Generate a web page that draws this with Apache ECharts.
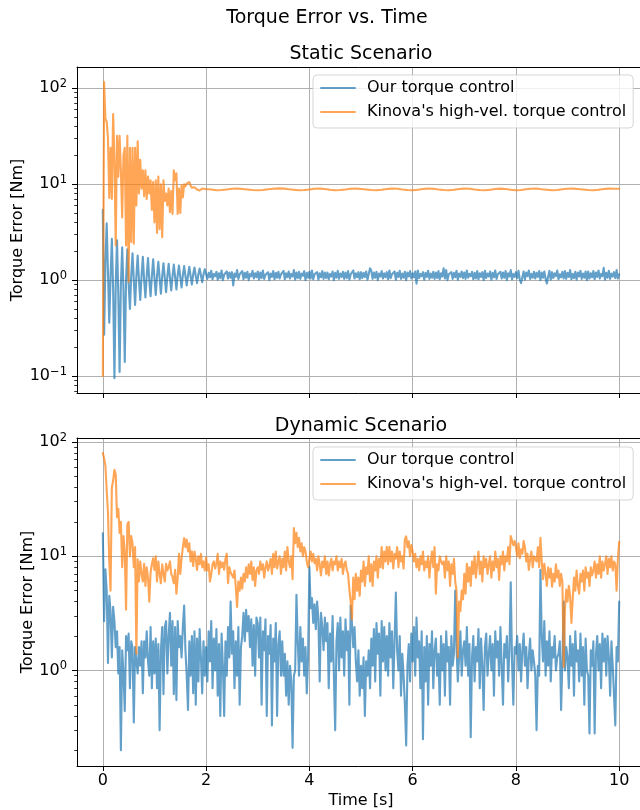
<!DOCTYPE html>
<html>
<head>
<meta charset="utf-8">
<script src="https://cdn.jsdelivr.net/npm/echarts@6/dist/echarts.min.js"></script>
<style>
  html, body { margin: 0; padding: 0; background: #fff; }
  #chart { width: 640px; height: 810px; }
</style>
</head>
<body>
<div id="chart"></div>
<script>
// ---- Tick positions ----
const xTicks = [0, 2, 4, 6, 8, 10];
const yMajorTicks = [0.1, 1, 10, 100];
const yMinorTicksStatic = [0.07, 0.08, 0.09, 0.2, 0.3, 0.4, 0.5, 0.6, 0.7, 0.8, 0.9,
  2, 3, 4, 5, 6, 7, 8, 9, 20, 30, 40, 50, 60, 70, 80, 90];
const yMinorTicksDynamic = [0.2, 0.3, 0.4, 0.5, 0.6, 0.7, 0.8, 0.9,
  2, 3, 4, 5, 6, 7, 8, 9, 20, 30, 40, 50, 60, 70, 80, 90];

// ---- Series names ----
const seriesNames = ["Our torque control", "Kinova's high-vel. torque control"];

// ---- Static scenario: torque error [Nm], sampled every 0.025 s from t = 0 ----
const staticOurs = [
  5.4, 0.27, 1.5, 3.9, 1.2, 0.36, 1.1, 2.7, 0.8, 0.095, 0.9, 2.6, 0.7, 0.11, 0.9, 2.2, 0.8, 0.14, 1.0, 2.1,
  0.9, 0.5, 1.1, 1.9, 1.0, 0.55, 1.1, 1.8, 1.0, 0.62, 1.1, 1.75, 1.0, 0.66, 1.1, 1.7, 1.0, 0.68, 1.1, 1.65,
  1.05, 0.7, 1.1, 1.55, 1.05, 0.72, 1.1, 1.5, 1.05, 0.75, 1.1, 1.48, 1.05, 0.78, 1.1, 1.45, 1.08, 0.8, 1.12, 1.42,
  1.08, 0.84, 1.12, 1.4, 1.1, 0.88, 1.12, 1.38, 1.1, 0.9, 1.15, 1.35, 1.1, 0.93, 1.15, 1.32, 1.12, 0.95, 1.15, 1.3,
  1.24, 1.03, 1.19, 1.07, 1.25, 1.02, 1.16, 1.1, 1.22, 1.01, 1.18, 1.05, 1.26, 1.0, 1.14, 1.09, 1.23, 1.04, 1.2, 1.06,
  1.21, 0.88, 1.17, 1.08, 1.27, 1.03, 1.15, 1.11, 1.24, 1.02, 1.19, 1.06, 1.22, 1.0, 1.16, 1.1, 1.25, 1.04, 1.18, 1.07,
  1.23, 1.01, 1.2, 1.05, 1.26, 1.03, 1.14, 1.12, 1.21, 1.0, 1.17, 1.08, 1.24, 1.02, 1.19, 1.06, 1.22, 1.04, 1.15, 1.1,
  1.25, 1.02, 1.18, 1.07, 1.23, 1.04, 1.16, 1.09, 1.27, 1.01, 1.2, 1.05, 1.22, 1.03, 1.17, 1.11, 1.24, 1.0, 1.19, 1.06,
  1.22, 1.04, 1.26, 1.02, 1.15, 1.1, 1.21, 1.01, 1.18, 1.07, 1.24, 1.03, 1.2, 1.05, 1.2, 1.02, 1.16, 1.09, 1.23, 1.0,
  1.19, 1.06, 1.25, 1.03, 1.17, 1.08, 1.22, 1.03, 1.2, 1.05, 1.24, 1.01, 1.15, 1.11, 1.26, 1.04, 1.18, 1.07, 1.21, 1.02,
  1.21, 1.05, 1.19, 1.08, 1.23, 1.01, 1.16, 1.33, 1.25, 1.03, 1.2, 1.06, 1.22, 1.0, 1.17, 1.09, 1.24, 1.04, 1.18, 1.07,
  1.21, 1.02, 1.26, 1.05, 1.15, 1.11, 1.23, 1.01, 1.19, 1.08, 1.25, 1.03, 1.17, 1.06, 1.22, 1.0, 1.2, 1.09, 1.24, 1.04,
  1.18, 1.07, 1.23, 0.92, 1.26, 1.05, 1.16, 1.1, 1.21, 1.01, 1.19, 1.08, 1.25, 1.03, 1.17, 1.06, 1.22, 1.03, 1.2, 1.05,
  1.24, 1.02, 1.18, 1.09, 1.33, 1.04, 1.27, 1.0, 1.15, 1.11, 1.21, 1.03, 1.19, 1.07, 1.25, 1.01, 1.17, 1.08, 1.23, 1.05,
  1.2, 1.03, 1.26, 1.06, 1.16, 1.1, 1.22, 1.02, 1.19, 1.04, 1.24, 1.02, 1.18, 1.08, 1.21, 1.0, 1.25, 1.05, 1.17, 1.09,
  1.23, 1.01, 1.19, 1.07, 1.26, 1.03, 1.15, 1.11, 1.22, 1.04, 1.2, 1.06, 1.24, 1.0, 1.18, 1.09, 1.27, 1.02, 1.16, 1.08,
  1.21, 1.05, 1.25, 1.02, 0.93, 1.07, 1.23, 1.01, 1.2, 1.1, 1.26, 1.03, 1.16, 1.06, 1.22, 1.04, 1.19, 1.08, 1.24, 1.0,
  1.2, 1.06, 1.23, 1.03, 0.92, 1.09, 1.25, 1.01, 1.21, 1.05, 1.18, 1.1, 1.26, 1.02, 1.15, 1.07, 1.22, 1.04, 1.24, 1.03,
  1.19, 1.08, 1.27, 1.02, 1.16, 1.05, 1.22, 1.01, 1.2, 1.09, 1.25, 1.03, 1.17, 1.06, 1.23, 1.0, 1.23, 1.04, 1.18, 1.07,
  1.24, 1.02, 1.2, 1.08, 1.26, 1.04, 1.16, 1.1, 1.34, 1.01, 1.19, 1.06, 1.25, 1.03, 1.17, 1.09, 1.21, 1.05, 1.27, 1.04,
  1.15
];

// Kinova, static: transient sampled every 0.025 s (0 to 1.975 s) ...
const staticKinovaStart = [
  0.1, 116, 48, 45, 30, 7.2, 24, 7, 54, 18, 2.3, 32, 12, 32, 14, 4.5, 20, 24, 2.3, 32,
  0.96, 24, 2.5, 24, 2.4, 24, 6, 28, 8, 18, 9, 14, 7.5, 14, 7, 12, 8, 11, 5.4, 10.5,
  4, 11, 3.1, 12, 3.4, 10, 2.8, 11, 6.7, 8, 6, 9, 5.1, 8.5, 4.9, 14, 11, 13, 4.9, 9,
  5, 9.8, 7.3, 10, 9.5, 10.2, 9.8, 10.5, 9.7, 9.2, 9.5, 9.3, 9.1, 8.8, 8.7, 8.6, 8.8, 9, 9.1, 8.9
];
// ... then the settled part, every 0.1 s from 2.0 s to 10.0 s
const staticKinovaSettled = [
  8.9, 8.8, 8.65, 8.7, 8.8, 8.95, 9.0, 8.9, 8.8, 8.7,
  8.65, 8.7, 8.85, 8.95, 9.05, 9.0, 8.85, 8.75, 8.65, 8.7,
  8.8, 8.95, 9.0, 8.9, 8.75, 8.65, 8.7, 8.8, 8.95, 9.0,
  8.9, 8.8, 8.7, 8.65, 8.75, 8.9, 9.0, 8.95, 8.8, 8.7,
  8.65, 8.75, 8.9, 9.0, 8.95, 8.8, 8.7, 8.65, 8.75, 8.9,
  9.0, 8.95, 8.8, 8.7, 8.65, 8.75, 8.9, 9.0, 8.9, 8.75,
  8.65, 8.7, 8.85, 8.95, 9.0, 8.85, 8.75, 8.65, 8.7, 8.85,
  8.95, 9.0, 8.9, 8.8, 8.7, 8.65, 8.75, 8.9, 9.0, 8.95,
  8.95
];

// ---- Dynamic scenario: torque error [Nm], sampled every 0.025 s from t = 0 ----
const dynamicOurs = [
  15.9, 2.7, 7.7, 5, 1.16, 4.5, 3.3, 1.3, 3.6, 2.7, 1.6, 2.2, 0.94, 1.6, 0.2, 1.5, 0.94, 0.44, 2.0, 1.5,
  2.1, 0.7, 1.8, 1.6, 0.35, 1.6, 1.6, 0.94, 1.6, 1.1, 1.8, 0.63, 1.8, 1.3, 2.2, 1.2, 0.9, 2.4, 0.7, 1.8,
  0.94, 1.9, 0.7, 1.7, 0.3, 1.5, 2.4, 0.62, 2.4, 2.7, 0.94, 2.0, 3.2, 1.1, 2.7, 0.62, 2.4, 0.55, 2.7, 1.6,
  2.0, 1.3, 2.4, 3.7, 1.5, 0.9, 0.45, 1.8, 0.9, 2.0, 0.63, 2.2, 0.5, 1.9, 0.8, 2.3, 1.3, 0.63, 1.8, 0.9,
  1.6, 0.8, 2.2, 1.2, 2.7, 0.7, 1.9, 1.0, 2.3, 0.6, 1.7, 0.4, 2.1, 1.1, 0.4, 1.8, 0.9, 2.4, 1.3, 4.0,
  1.4, 2.2, 0.7, 1.8, 0.9, 2.4, 0.5, 1.6, 2.0, 3.2, 1.8, 3.4, 2.2, 3.0, 1.6, 2.8, 1.1, 2.5, 0.9, 2.9,
  2.6, 1.3, 2.9, 0.5, 2.2, 1.5, 2.8, 0.4, 2.0, 1.4, 2.5, 0.33, 1.9, 1.2, 2.6, 0.4, 1.7, 2.2, 0.9, 1.8,
  0.9, 1.4, 0.6, 1.2, 0.5, 1.1, 0.8, 0.21, 0.9, 1.0, 4.6, 1.8, 0.9, 2.4, 1.2, 1.9, 0.9, 1.6, 0.63, 1.3,
  8.1, 3.5, 4.3, 2.6, 3.8, 2.3, 4.0, 2.8, 0.8, 3.2, 2.4, 1.5, 2.9, 1.8, 2.6, 0.7, 2.1, 1.2, 3.0, 0.9,
  0.3, 1.8, 2.6, 1.0, 2.9, 1.3, 2.2, 0.9, 2.8, 1.5, 2.2, 0.5, 3.7, 2.6, 1.6, 2.4, 1.2, 0.8, 1.5, 0.6,
  1.1, 0.7, 1.3, 0.4, 1.2, 0.9, 1.5, 0.7, 1.9, 1.1, 2.3, 0.8, 2.6, 1.4, 2.1, 0.6, 2.7, 1.2, 2.4, 1.0,
  2.0, 0.9, 2.6, 1.3, 2.2, 0.7, 1.8, 4.8, 1.5, 1.0, 2.0, 0.6, 1.4, 0.9, 0.5, 0.22, 1.1, 1.7, 0.8, 2.1,
  1.2, 2.4, 0.9, 2.9, 1.3, 1.8, 0.7, 2.2, 0.25, 1.6, 0.8, 2.0, 0.5, 1.7, 1.1, 2.2, 0.7, 1.5, 1.9, 0.9,
  1.4, 0.5, 2.0, 1.0, 1.7, 0.6, 2.2, 1.2, 1.6, 0.5, 2.0, 1.1, 1.4, 5.0, 1.6, 0.8, 1.3, 2.2, 0.9, 1.5,
  1.8, 1.1, 2.4, 0.9, 1.7, 0.26, 1.3, 2.0, 0.8, 1.6, 1.2, 2.3, 0.7, 1.9, 1.1, 0.45, 1.6, 2.1, 0.9, 1.4,
  2.0, 1.0, 1.7, 0.6, 2.2, 1.3, 1.8, 0.9, 2.4, 1.1, 0.5, 1.7, 1.3, 2.0, 0.8, 1.5, 5.9, 1.2, 0.5, 1.6,
  1.4, 2.0, 1.0, 1.7, 0.8, 1.5, 2.1, 1.1, 1.6, 0.7, 1.3, 1.9, 1.0, 1.5, 1.2, 0.9, 0.3, 1.1, 0.9, 7.6,
  2.0, 1.2, 2.7, 0.9, 1.8, 1.1, 2.2, 0.8, 1.6, 1.3, 2.0, 1.0, 1.3, 1.4, 1.8, 0.45, 1.2, 4.0, 1.0, 1.6,
  1.3, 0.7, 2.0, 1.1, 1.7, 0.6, 2.2, 1.2, 1.5, 0.8, 2.1, 0.9, 1.6, 0.5, 1.9, 1.0, 0.9, 0.28, 1.5, 1.1,
  1.8, 0.28, 1.4, 2.0, 1.0, 1.7, 0.7, 2.1, 1.2, 1.9, 0.9, 2.0, 1.3, 0.6, 1.8, 1.1, 1.1, 0.33, 1.6, 1.2,
  4.0
];

const dynamicKinova = [
  80, 72, 62, 38, 24, 9, 5, 40, 46, 57, 52, 22, 26, 16, 20, 8, 15, 11, 3.4, 19,
  20, 10, 15, 13, 8, 12, 1.4, 9.4, 6, 9, 7, 6, 8.6, 5.5, 8, 6.5, 4.0, 7.2, 8.5, 9.6,
  7.6, 10, 6, 9, 7, 5.8, 8.5, 7, 6, 8.6, 7.5, 8, 9, 7, 6.6, 5.8, 7.6, 4.7, 6.5, 10.5,
  7, 9.5, 12, 14.4, 12, 14, 11, 13, 9, 11, 8.2, 11, 9.5, 7.6, 10, 8.5, 10.5, 8, 9, 7.5,
  9.8, 7.5, 8.5, 6, 7, 8.5, 9, 7.8, 8.6, 10.5, 7, 9, 8, 8.8, 7.6, 9.5, 10.5, 5.8, 8, 7.2,
  7, 6.5, 7.5, 5.4, 3.6, 6, 5, 6.5, 5.2, 7, 6, 8, 6.5, 8.5, 7, 9, 6.2, 8, 5.5, 7.5,
  8, 7, 9, 7.6, 8.5, 6.5, 8, 9, 7.5, 8.2, 9.5, 7, 10.5, 8, 11, 7.8, 9, 10, 7, 9.5,
  8, 11, 7.5, 12, 9, 8, 10, 6.3, 17.6, 13, 16, 12, 14.5, 11, 13, 10, 12, 11, 9, 8,
  8, 11, 9, 10.5, 8.7, 9.5, 7.5, 10, 8.5, 6.8, 9, 8, 10, 7, 9, 6.8, 8.5, 9.5, 7.5, 9,
  8.5, 10, 7.5, 9, 8, 9.5, 7, 8.5, 9, 7.5, 7, 5.1, 4, 2.8, 6.5, 4.2, 7, 5, 6.5, 4.5,
  7.5, 6, 9, 5.5, 8, 7, 10, 6, 8.5, 5.5, 9, 7.5, 10, 6.5, 9.5, 8, 12, 7.8, 11, 9,
  12, 8.5, 12.1, 9, 11, 7.8, 10.5, 9.5, 12, 8, 11, 9, 10, 7.8, 14, 14.9, 12, 13.5, 10, 12.5,
  11, 9, 10.5, 8, 9.5, 7.5, 10, 8.5, 11, 7.5, 9, 8, 10, 6.5, 9, 11, 8, 12, 4.7, 8.5,
  7.5, 10, 9, 8.5, 9, 6.5, 10, 7.5, 9, 5.5, 8.5, 7, 9.5, 6, 5, 1.3, 4, 3.3, 5, 4.2,
  7, 4.7, 8.6, 6, 8, 5.5, 9, 7, 10, 6.5, 8.5, 11, 7, 9, 6, 10, 8, 9.5, 7, 8.5,
  10, 6.5, 9, 7.5, 11, 8, 9.5, 6.2, 10, 8.5, 11, 7.5, 10, 9, 12, 8.5, 15, 15.4, 12.5, 13.6,
  12, 10, 13, 9.6, 11.5, 10.5, 13.6, 12, 9, 10.5, 7.6, 9.5, 11, 8, 10, 10, 9, 12, 8, 14.5,
  9, 6.3, 8.6, 7, 5.5, 8, 6.5, 7.8, 5.4, 7, 6, 8.5, 6.5, 7.5, 5.5, 7, 6, 1.07, 3.5, 5.1,
  4, 5.5, 4.5, 2.6, 4.2, 6.5, 5, 7.5, 5.5, 4.7, 7, 6, 7.5, 5, 8, 6.5, 7.2, 5.5, 8, 6.8,
  7.5, 9, 6.5, 8.5, 7, 10, 6.5, 9, 7.5, 8.5, 10, 7, 9.5, 8, 10, 7.5, 9, 8.5, 5, 9.5,
  13.4
];

// Pair each sample with its time stamp on a uniform grid.
function timed(t0, dt, values) {
  return values.map((v, i) => [Math.round((t0 + i * dt) * 1000) / 1000, v]);
}

const FONT = 'DejaVu Sans';
const BLUE = '#1f77b4';
const ORANGE = '#ff7f0e';
const GRID_COLOR = '#b0b0b0';
const TICK_FONT = 16;
const TITLE_FONT = 19;

function powerLabel(v) {
  const e = Math.round(Math.log10(v));
  const exp = e < 0 ? '\u2212' + (-e) : String(e);
  return '{b|10}{s|' + exp + '}';
}

// Bottom x axis of a panel: ticks, grid lines and (optionally) labels.
function xAxisCfg(gridIndex, showLabels) {
  const cfg = {
    gridIndex: gridIndex,
    type: 'value',
    position: 'bottom',
    min: -0.5,
    max: 10.5,
    axisLine: { show: true, onZero: false, lineStyle: { color: '#000', width: 1 } },
    axisTick: { show: true, inside: false, length: 5, customValues: xTicks,
      lineStyle: { color: '#000', width: 1 } },
    axisLabel: { show: showLabels, customValues: xTicks, margin: 7,
      fontFamily: FONT, fontSize: TICK_FONT, color: '#000' },
    splitLine: { show: true, lineStyle: { color: GRID_COLOR, width: 1 } }
  };
  if (showLabels) {
    cfg.name = 'Time [s]';
    cfg.nameLocation = 'middle';
    cfg.nameGap = 27;
    cfg.nameMoveOverlap = false;
    cfg.nameTextStyle = { fontFamily: FONT, fontSize: TICK_FONT, color: '#000' };
  }
  return cfg;
}

// Top spine of a panel.
function xAxisTopSpine(gridIndex) {
  return {
    gridIndex: gridIndex,
    type: 'value',
    position: 'top',
    min: -0.5,
    max: 10.5,
    axisLine: { show: true, onZero: false, lineStyle: { color: '#000', width: 1 } },
    axisTick: { show: false },
    axisLabel: { show: false },
    splitLine: { show: false }
  };
}

function yAxisMajor(gridIndex, min, max, nameGap) {
  return {
    gridIndex: gridIndex,
    type: 'log',
    logBase: 10,
    min: min,
    max: max,
    position: 'left',
    name: 'Torque Error [Nm]',
    nameLocation: 'middle',
    nameGap: nameGap,
    nameMoveOverlap: false,
    nameTextStyle: { fontFamily: FONT, fontSize: TICK_FONT, color: '#000' },
    axisLine: { show: true, onZero: false, lineStyle: { color: '#000', width: 1 } },
    axisTick: { show: true, inside: false, length: 5, customValues: yMajorTicks,
      lineStyle: { color: '#000', width: 1 } },
    axisLabel: {
      show: true, customValues: yMajorTicks, margin: 10,
      formatter: powerLabel,
      rich: {
        b: { fontFamily: FONT, fontSize: TICK_FONT, color: '#000', lineHeight: 20 },
        s: { fontFamily: FONT, fontSize: 11.5, color: '#000', verticalAlign: 'top', lineHeight: 12 }
      }
    },
    splitLine: { show: true, lineStyle: { color: GRID_COLOR, width: 1 } }
  };
}

function yAxisMinor(gridIndex, min, max, ticks) {
  return {
    gridIndex: gridIndex,
    type: 'log',
    logBase: 10,
    min: min,
    max: max,
    position: 'left',
    offset: 0,
    axisLine: { show: false, onZero: false },
    axisTick: { show: true, inside: false, length: 2.8, customValues: ticks,
      lineStyle: { color: '#000', width: 0.8 } },
    axisLabel: { show: false },
    splitLine: { show: false }
  };
}

function legendCfg(top) {
  return {
    orient: 'vertical',
    left: 313,
    top: top,
    padding: [5, 7, 8, 7],
    itemWidth: 34,
    itemHeight: 16,
    itemGap: 8,
    backgroundColor: 'rgba(255,255,255,0.8)',
    borderColor: 'rgba(204,204,204,0.8)',
    borderWidth: 1,
    borderRadius: 4,
    selectedMode: false,
    itemStyle: { opacity: 0, borderWidth: 0 },
    textStyle: { fontFamily: FONT, fontSize: TICK_FONT, color: '#000', padding: [0, 0, 0, 7] },
    data: seriesNames.slice()
  };
}

function lineSeries(name, color, xIdx, yIdx, data) {
  return {
    name: name,
    type: 'line',
    xAxisIndex: xIdx,
    yAxisIndex: yIdx,
    data: data,
    symbol: 'none',
    showSymbol: false,
    color: color,
    lineStyle: { color: color, width: 2.1, opacity: 0.7, join: 'round', cap: 'round' },
    emphasis: { disabled: true },
    z: 3
  };
}

const chart = echarts.init(document.getElementById('chart'), null, { renderer: 'canvas' });

const titleStyle = { fontFamily: FONT, fontSize: TITLE_FONT, fontWeight: 'normal', color: '#000' };

chart.setOption({
  animation: false,
  backgroundColor: '#fff',
  title: [
    { text: 'Torque Error vs. Time', left: 327, top: 9, textAlign: 'center', padding: 0, textStyle: titleStyle },
    { text: 'Static Scenario', left: 361, top: 45, textAlign: 'center', padding: 0, textStyle: titleStyle },
    { text: 'Dynamic Scenario', left: 361, top: 417, textAlign: 'center', padding: 0, textStyle: titleStyle }
  ],
  legend: [legendCfg(75), legendCfg(447)],
  grid: [
    { left: 77, top: 67, width: 568, height: 326, show: false, containLabel: false, outerBoundsMode: 'none' },
    { left: 77, top: 438, width: 568, height: 328, show: false, containLabel: false, outerBoundsMode: 'none' }
  ],
  xAxis: [xAxisCfg(0, false), xAxisCfg(1, true), xAxisTopSpine(0), xAxisTopSpine(1)],
  yAxis: [
    yAxisMajor(0, 0.0665, 166.7, 51),
    yAxisMinor(0, 0.0665, 166.7, yMinorTicksStatic),
    yAxisMajor(1, 0.1456, 108.4, 41),
    yAxisMinor(1, 0.1456, 108.4, yMinorTicksDynamic)
  ],
  series: [
    lineSeries(seriesNames[0], BLUE, 0, 0, timed(0, 0.025, staticOurs)),
    lineSeries(seriesNames[1], ORANGE, 0, 0,
      timed(0, 0.025, staticKinovaStart).concat(timed(2.0, 0.1, staticKinovaSettled))),
    lineSeries(seriesNames[0], BLUE, 1, 2, timed(0, 0.025, dynamicOurs)),
    lineSeries(seriesNames[1], ORANGE, 1, 2, timed(0, 0.025, dynamicKinova))
  ]
});
</script>
</body>
</html>
